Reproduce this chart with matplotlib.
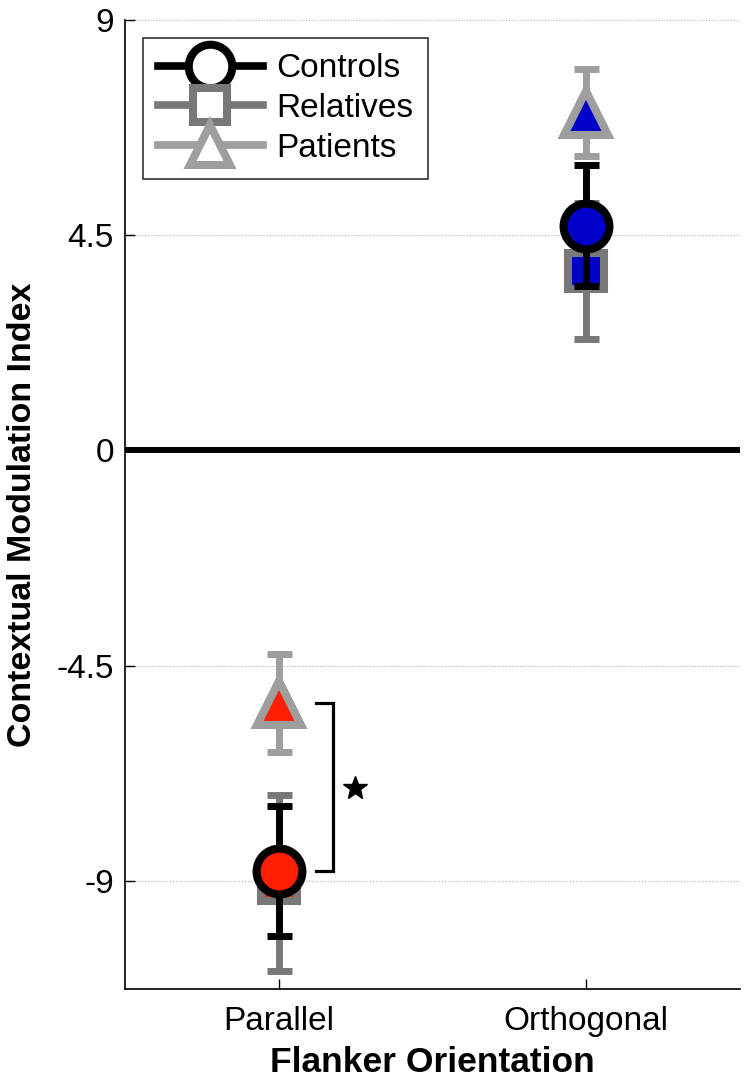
import matplotlib
matplotlib.use("Agg")
import matplotlib.pyplot as plt
from matplotlib.lines import Line2D
from matplotlib import font_manager

# ---- data ----
conditions = ["Parallel", "Orthogonal"]
groups = ["Controls", "Relatives", "Patients"]
controls_mean = [-8.8, 4.7]
controls_err = [1.36, 1.27]
relatives_mean = [-9.05, 3.76]
relatives_err = [1.84, 1.42]
patients_mean = [-5.28, 7.06]
patients_err = [1.02, 0.91]
yticks = [-9, -4.5, 0, 4.5, 9]
ytick_labels = ["-9", "-4.5", "0", "4.5", "9"]

# ---- styles ----
fill_colors = ["#FF1E00", "#0000C8"]
group_colors = {"Controls": "#000000", "Relatives": "#787878", "Patients": "#9E9E9E"}
group_markers = {"Controls": "o", "Relatives": "s", "Patients": "^"}
group_ms = {"Controls": 33, "Relatives": 26, "Patients": 31}

names = {f.name for f in font_manager.fontManager.ttflist}
base_font = "Liberation Sans" if "Liberation Sans" in names else "DejaVu Sans"
narrow_font = "Liberation Sans Narrow" if "Liberation Sans Narrow" in names else base_font
plt.rcParams["font.family"] = [base_font, "DejaVu Sans"]

fig = plt.figure(figsize=(7.47, 10.81), dpi=100)
ax = fig.add_axes([125 / 747, 1 - 989 / 1081, 615 / 747, 969 / 1081])

x = [1, 2]
data = {
    "Relatives": (relatives_mean, relatives_err),
    "Patients": (patients_mean, patients_err),
    "Controls": (controls_mean, controls_err),
}
z = {"Relatives": 3, "Patients": 5, "Controls": 7}
for g in ["Relatives", "Patients", "Controls"]:
    m, e = data[g]
    col = group_colors[g]
    ax.errorbar(x, m, yerr=e, fmt="none", ecolor=col, elinewidth=5,
                capsize=9, capthick=5, zorder=z[g])
    for i in range(2):
        ax.plot([x[i]], [m[i]], marker=group_markers[g], ms=group_ms[g],
                mfc=fill_colors[i], mec=col, mew=5.8, ls="none",
                zorder=z[g] + 0.5)

# zero line
ax.axhline(0, color="black", lw=4.3, zorder=2)

# significance bracket between patients and controls (parallel)
bx0, bx1 = 1.12, 1.176
y_top = patients_mean[0]
y_bot = controls_mean[0]
ax.plot([bx0, bx1, bx1, bx0], [y_top, y_top, y_bot, y_bot], color="black",
        lw=2.3, solid_joinstyle="miter", zorder=8)
ax.plot([1.248], [(y_top + y_bot) / 2 - 0.02], marker="*", ms=18, color="black",
        ls="none", zorder=8)

# axes
ax.set_xlim(0.5, 2.5)
ax.set_ylim(-11.26, 9)
ax.set_yticks(yticks)
ax.set_yticklabels(ytick_labels)
ax.set_xticks(x)
ax.set_xticklabels(conditions)
ax.tick_params(axis="both", direction="in", length=7, width=1, labelsize=24,
               colors="black")
ax.tick_params(axis="y", pad=8)
ax.tick_params(axis="x", pad=12)
for t in [9, 4.5, -4.5, -9]:
    ax.axhline(t, color="#b0b0b0", lw=0.8, ls=(0, (1, 1.5)), zorder=1)
ax.spines["top"].set_visible(False)
ax.spines["right"].set_visible(False)
ax.spines["left"].set_linewidth(1.2)
ax.spines["bottom"].set_linewidth(1.2)

ax.set_xlabel("Flanker Orientation", fontsize=25.5, fontweight="bold", labelpad=7)
ax.set_ylabel("Contextual Modulation Index", fontsize=24.5, fontweight="bold",
              family=[narrow_font, "DejaVu Sans"])
ax.yaxis.set_label_coords(-0.142, 0.489)

# legend
handles = []
for g in groups:
    handles.append(Line2D([0], [0], color=group_colors[g], lw=5.5,
                          marker=group_markers[g], ms=group_ms[g] * 0.95,
                          mfc="white", mec=group_colors[g], mew=5.8))
leg = ax.legend(handles, groups, loc="upper left", bbox_to_anchor=(0.029, 0.981),
                borderaxespad=0, fontsize=24, frameon=True, fancybox=False,
                edgecolor="black", handlelength=3.15, handletextpad=0.4,
                borderpad=0.45, labelspacing=0.26)
leg.get_frame().set_linewidth(1.2)
leg.set_zorder(20)

fig.savefig("out.png", dpi=100)
